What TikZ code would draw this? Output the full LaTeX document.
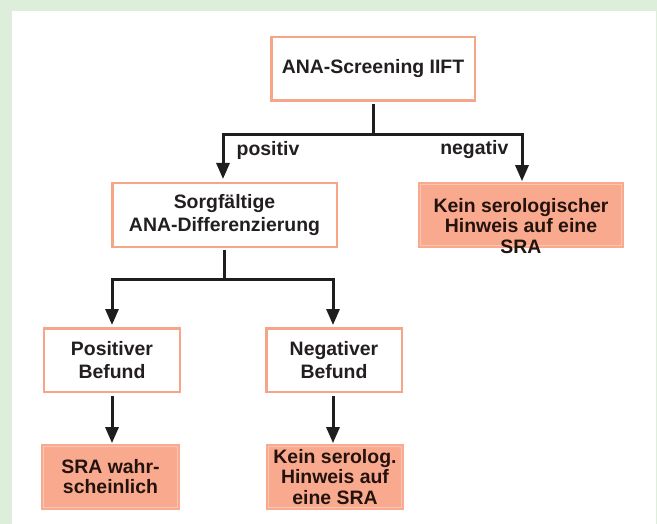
\documentclass[tikz,border=0pt]{standalone}
\usepackage{fontspec}
\setmainfont{Liberation Sans}
\usetikzlibrary{arrows.meta}
\definecolor{bggreen}{HTML}{DDEEDB}
\definecolor{salmonline}{HTML}{F6A589}
\definecolor{salmonfill}{HTML}{F9AA8E}
\definecolor{salmonlight}{HTML}{FBC6B1}
\definecolor{txtdark}{HTML}{231F20}
\definecolor{txtfill}{HTML}{24120E}
\definecolor{arrowcol}{HTML}{1E1E1E}
\tikzset{
  boxtext/.style={font=\fontsize{19.5}{23}\selectfont\bfseries, align=center},
  wbox/.style={boxtext, draw=salmonline, line width=2.5bp, fill=white, inner sep=0pt, text=txtdark},
  fbox/.style={boxtext, preaction={draw=salmonfill, line width=5bp}, fill=salmonfill, draw=salmonlight, line width=0.7bp, inner sep=0pt, text=txtfill},
  lbl/.style={font=\fontsize{19.5}{23}\selectfont\bfseries, text=txtdark, inner sep=0pt},
  conn/.style={draw=arrowcol, line width=3bp},
  arr/.style={conn, -{Triangle[length=16bp,width=13bp]}},
}
\begin{document}
\begin{tikzpicture}[x=1bp, y=-1bp]
\useasboundingbox (0,0) rectangle (657,524);
\fill[bggreen] (0,0) rectangle (657,524);
\fill[white] (12,11) rectangle (655.5,524);

\node[wbox, minimum width=203.5bp, minimum height=63.5bp] (top) at (373,69) {ANA-Screening IIFT};
\node[wbox, minimum width=224.5bp, minimum height=63.5bp] (sorg) at (224.5,215) {Sorgfältige\\ANA-Differenzierung};
\node[fbox, minimum width=201bp, minimum height=60.5bp] (kein1) at (521,214.8) {};
\node[boxtext, text=txtfill, inner sep=0pt, font=\fontsize{19.5}{20.5}\selectfont\bfseries] (kein1txt) at (521,226) {Kein serologischer\\Hinweis auf eine\\SRA};
\node[wbox, minimum width=135.5bp, minimum height=63.5bp] (pos) at (112,360) {Positiver\\Befund};
\node[wbox, minimum width=135.5bp, minimum height=63.5bp] (neg) at (334,360) {Negativer\\Befund};
\node[fbox, minimum width=134bp, minimum height=61bp, font=\fontsize{19.5}{20}\selectfont\bfseries] (sra) at (110.5,477) {SRA wahr-\\scheinlich};
\node[fbox, minimum width=133bp, minimum height=61bp, font=\fontsize{19.5}{20.5}\selectfont\bfseries] (kein2) at (335,477) {Kein serolog.\\Hinweis auf\\eine SRA};

\node[lbl, anchor=west] (lpos) at (236.5,150) {positiv};
\node[lbl, anchor=east] (lneg) at (508.5,150) {negativ};

\coordinate (j1) at (373,135);
\coordinate (j2) at (224,279);
\draw[conn, shorten <=2bp] (top.south) -- (j1);
\draw[arr, shorten >=3bp] (j1) -| ([xshift=-1.5bp]sorg.north);
\draw[arr, shorten >=3bp] (j1) -| ([xshift=1bp]kein1.north);
\draw[conn, shorten <=2bp] (sorg.south -| j2) -- (j2);
\draw[arr, shorten >=2bp] (j2) -| (pos.north);
\draw[arr, shorten >=2bp] (j2) -| ([xshift=-1bp]neg.north);
\draw[arr, shorten <=3bp, shorten >=3bp] (pos.south) -- (pos.south |- sra.north);
\draw[arr, shorten <=3bp, shorten >=3bp] ([xshift=-1bp]neg.south) -- ([xshift=-1bp]neg.south |- kein2.north);
\end{tikzpicture}
\end{document}
